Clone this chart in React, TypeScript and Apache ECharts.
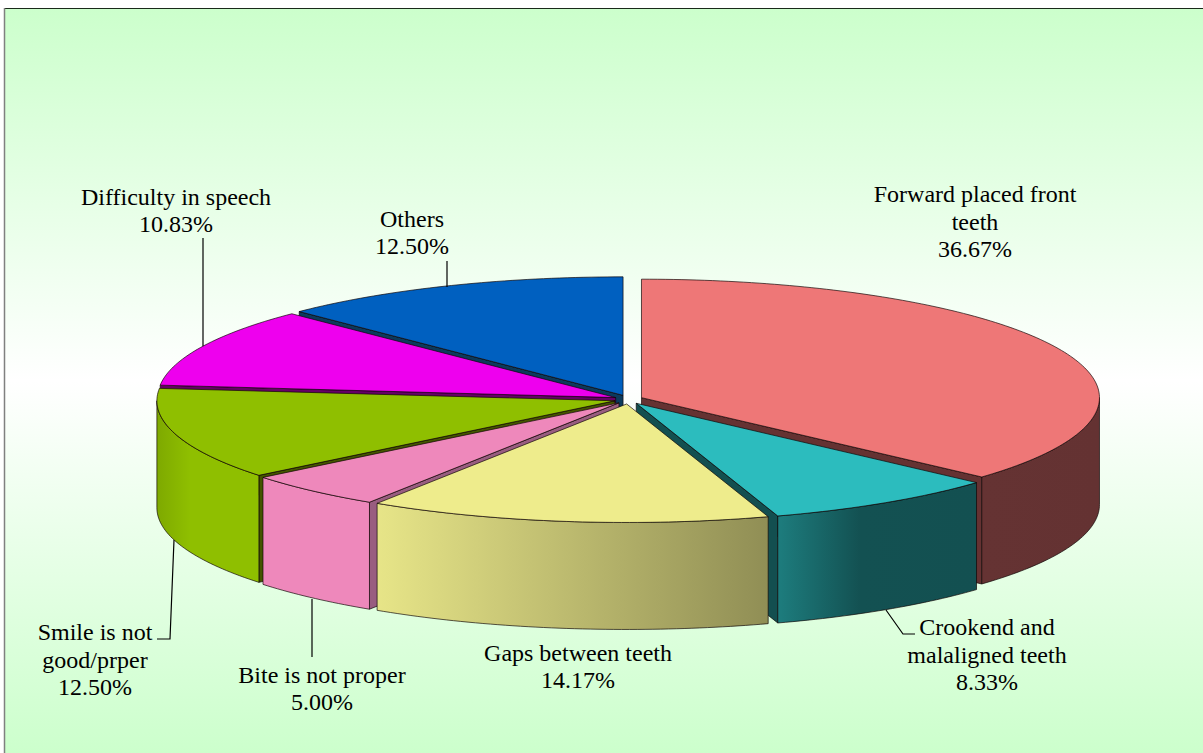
import React, { useEffect, useRef } from "react";
import * as echarts from "echarts";

// --- data ---
const categories = [
  "Forward placed front\nteeth",
  "Crookend and\nmalaligned teeth",
  "Gaps between teeth",
  "Bite is not proper",
  "Smile is not\ngood/prper",
  "Difficulty in speech",
  "Others",
];
const values = [36.67, 8.33, 14.17, 5.0, 12.5, 10.83, 12.5];

// --- style and layout, kept apart from the data ---
const topColors = ["#EE7777", "#2CBCBE", "#EEEC8C", "#EE88BB", "#8FBF00", "#EE00EE", "#0060C0"];
const faceColors = ["#653232", "#134F50", "#8F8D58", "#995D80", "#445500", "#660066", "#0C3A5C"];
const labelCenters = [
  [975, 221.5],
  [987, 654.5],
  [578, 666.5],
  [322, 688.5],
  [95, 659.5],
  [176, 210.5],
  [412, 232.5],
];
const leaderLines = [
  [],
  [[886, 610], [903, 634], [915, 634]],
  [],
  [[312, 599], [312, 657]],
  [[174, 540], [170, 639], [157, 639]],
  [[203, 238], [203, 346]],
  [[447, 261], [447, 287]],
];
const lighting = [
  [156, 0.88], [190, 1], [372, 1], [376, 0.97], [772, 0.6],
  [779, 0.66], [860, 0.43], [1100, 0.42],
];
const PIE = { cx: 628.5, cy: 399.5, rx: 458, ry: 118.5, depth: 107, explodeX: 14.2, explodeY: 4.5 };
const EDGE = "rgba(15,5,5,0.85)";
const FONT = '"Liberation Serif", "Times New Roman", serif';

const rad = (d: number) => (d * Math.PI) / 180;
const total = values.reduce((a, b) => a + b, 0);
const spans = values.map((_, i) => {
  const before = values.slice(0, i).reduce((a, b) => a + b, 0);
  return { start: (before / total) * 360, end: ((before + values[i]) / total) * 360 };
});
const backToFront = values
  .map((_, i) => i)
  .sort((a, b) => {
    const ma = (spans[a].start + spans[a].end) / 2;
    const mb = (spans[b].start + spans[b].end) / 2;
    return Math.cos(rad(mb)) - Math.cos(rad(ma));
  });

function shade(hex: string, k: number) {
  const n = parseInt(hex.slice(1), 16);
  const c = [(n >> 16) & 255, (n >> 8) & 255, n & 255].map((v) => Math.round(v * k));
  return `rgb(${c[0]},${c[1]},${c[2]})`;
}

function renderSlice(params: any, api: any) {
  const i = params.dataIndex;
  const { start, end } = spans[i];
  const mid = rad((start + end) / 2);
  const ax = PIE.cx + PIE.explodeX * Math.sin(mid);
  const ay = PIE.cy - PIE.explodeY * Math.cos(mid);
  const rim = (deg: number, drop = 0) => [
    ax + PIE.rx * Math.sin(rad(deg)),
    ay - PIE.ry * Math.cos(rad(deg)) + drop,
  ];
  const arc = (a: number, b: number, drop = 0) => {
    const pts = [];
    const n = Math.max(2, Math.ceil(Math.abs(b - a)));
    for (let k = 0; k <= n; k++) pts.push(rim(a + ((b - a) * k) / n, drop));
    return pts;
  };
  const rank = backToFront.indexOf(i) * 10;
  const children: any[] = [];
  const face = (deg: number, z: number) => {
    children.push({
      type: "polygon",
      z2: rank + z,
      shape: { points: [[ax, ay], rim(deg), rim(deg, PIE.depth), [ax, ay + PIE.depth]] },
      style: { fill: faceColors[i], stroke: EDGE, lineWidth: 0.8 },
    });
  };
  if (Math.sin(rad(start)) < -1e-6) face(start, 1);
  if (Math.sin(rad(end)) > 1e-6) face(end, 1);

  const wallStart = Math.max(start, 90);
  const wallEnd = Math.min(end, 270);
  if (wallEnd > wallStart) {
    const top = arc(wallStart, wallEnd);
    const bottom = arc(wallEnd, wallStart, PIE.depth);
    const x0 = Math.min(top[0][0], top[top.length - 1][0]);
    const x1 = Math.max(top[0][0], top[top.length - 1][0]);
    const stops = [
      [x0, lightAt(x0)],
      ...lighting.filter((l) => l[0] > x0 && l[0] < x1),
      [x1, lightAt(x1)],
    ].map(([x, k]) => ({ offset: (x - x0) / (x1 - x0), color: shade(topColors[i], k) }));
    children.push({
      type: "polygon",
      z2: rank + 2,
      shape: { points: top.concat(bottom) },
      style: {
        fill: new echarts.graphic.LinearGradient(x0, 0, x1, 0, stops, true),
        stroke: EDGE,
        lineWidth: 0.8,
      },
    });
  }
  children.push({
    type: "polygon",
    z2: rank + 3,
    shape: { points: [[ax, ay], ...arc(start, end)] },
    style: { fill: topColors[i], stroke: EDGE, lineWidth: 0.8 },
  });
  if (leaderLines[i].length) {
    children.push({
      type: "polyline",
      z2: 200,
      shape: { points: leaderLines[i] },
      style: { fill: "none", stroke: "#000", lineWidth: 1.2 },
    });
  }
  children.push({
    type: "text",
    z2: 201,
    x: labelCenters[i][0],
    y: labelCenters[i][1],
    style: {
      text: `${categories[i]}\n${api.value(0).toFixed(2)}%`,
      font: `24px ${FONT}`,
      lineHeight: 27.5,
      fill: "#000",
      align: "center",
      verticalAlign: "middle",
    },
  });
  return { type: "group", children };
}

function lightAt(x: number) {
  for (let k = 1; k < lighting.length; k++) {
    if (x <= lighting[k][0]) {
      const [x0, v0] = lighting[k - 1];
      const [x1, v1] = lighting[k];
      return v0 + ((v1 - v0) * Math.max(0, x - x0)) / (x1 - x0);
    }
  }
  return lighting[lighting.length - 1][1];
}

export default function App() {
  const ref = useRef<HTMLDivElement>(null);
  useEffect(() => {
    const chart = echarts.init(ref.current!, undefined, { renderer: "svg" });
    chart.setOption({
      animation: false,
      backgroundColor: "#fff",
      graphic: [
        {
          type: "rect",
          z: -2,
          silent: true,
          shape: { x: 5, y: 9, width: 1198, height: 744 },
          style: {
            fill: new echarts.graphic.LinearGradient(0, 0, 0, 1, [
              { offset: 0, color: "#CCFFCC" },
              { offset: 0.5, color: "#FFFFFF" },
              { offset: 1, color: "#CCFFCC" },
            ]),
          },
        },
        { type: "line", z: -1, silent: true, shape: { x1: 4, y1: 8.5, x2: 1203, y2: 8.5 }, style: { stroke: "#1a2a1a", lineWidth: 1 } },
        { type: "line", z: -1, silent: true, shape: { x1: 4.5, y1: 8, x2: 4.5, y2: 753 }, style: { stroke: "#808080", lineWidth: 1.5 } },
      ],
      series: [
        {
          type: "custom",
          coordinateSystem: "none",
          silent: true,
          renderItem: renderSlice,
          data: values.map((v, i) => ({ name: categories[i], value: [v] })),
        },
      ],
    });
    return () => chart.dispose();
  }, []);
  return <div ref={ref} style={{ position: "fixed", left: 0, top: 0, width: 1203, height: 753 }} />;
}
